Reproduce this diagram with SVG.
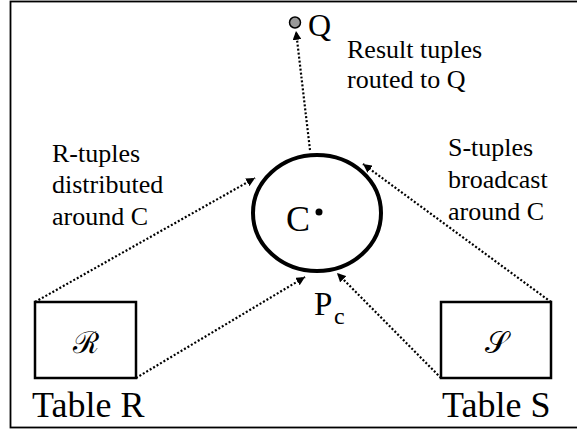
<svg xmlns="http://www.w3.org/2000/svg" width="577" height="429" viewBox="0 0 577 429">
<defs>
<marker id="ah" viewBox="0 0 10 10" refX="10" refY="5" markerWidth="4" markerHeight="4" orient="auto" markerUnits="strokeWidth">
<path d="M0,0 L10,5 L0,10 Z" fill="#000"/>
</marker>
</defs>
<style>
text{font-family:'Liberation Serif','Times New Roman','DejaVu Serif',serif;fill:#000}
.lbl{font-size:26px}
.big{font-size:36px}
.box{fill:#fff;stroke:#000;stroke-width:2.5}
.conn{fill:none;stroke:#000;stroke-width:2.2;stroke-dasharray:2 2;marker-end:url(#ah)}
</style>
<rect x="10.5" y="1.5" width="600" height="426" fill="#fff" stroke="#000" stroke-width="1.8"/>
<g id="connectors">
<line class="conn" x1="35" y1="302" x2="255" y2="178"/>
<line class="conn" x1="136" y1="378" x2="305" y2="277"/>
<line class="conn" x1="551" y1="302" x2="363" y2="164"/>
<line class="conn" x1="441" y1="378" x2="337" y2="273"/>
<line class="conn" x1="310" y1="150" x2="296" y2="31"/>
</g>
<g id="node-C">
<ellipse cx="317" cy="213" rx="64" ry="58" fill="none" stroke="#000" stroke-width="4"/>
<text class="big" x="286" y="231">C</text>
<circle cx="319" cy="212" r="3.5" fill="#000"/>
<text x="314" y="315" font-size="33">P</text>
<text x="334" y="324" font-size="24">c</text>
</g>
<g id="node-Q">
<circle cx="295" cy="22.5" r="5.5" fill="#999" stroke="#000" stroke-width="1.5"/>
<text x="308" y="36" font-size="32">Q</text>
</g>
<g id="node-R">
<rect class="box" x="35" y="302" width="101" height="76"/>
<text x="86" y="353" text-anchor="middle" font-size="30">ℛ</text>
<text class="big" x="32" y="417">Table R</text>
</g>
<g id="node-S">
<rect class="box" x="441" y="302" width="110" height="76"/>
<text x="496" y="353" text-anchor="middle" font-size="30">𝒮</text>
<text class="big" x="442" y="417">Table S</text>
</g>
<g id="labels">
<text class="lbl" x="347" y="58">Result tuples</text>
<text class="lbl" x="347" y="88">routed to Q</text>
<text class="lbl" x="52" y="162">R-tuples</text>
<text class="lbl" x="52" y="193">distributed</text>
<text class="lbl" x="52" y="225">around C</text>
<text class="lbl" x="448" y="156">S-tuples</text>
<text class="lbl" x="448" y="188">broadcast</text>
<text class="lbl" x="448" y="220">around C</text>
</g>
</svg>
